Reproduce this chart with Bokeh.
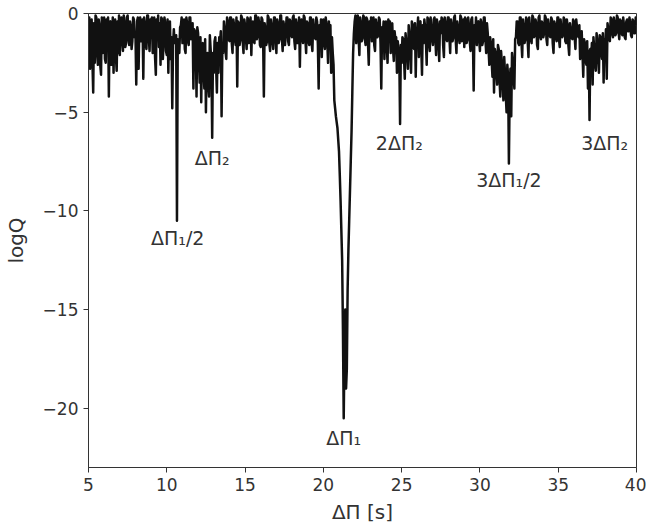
from bokeh.plotting import figure
from bokeh.models import Range1d, FixedTicker, ColumnDataSource
from bokeh.core.properties import value
from bokeh.embed import file_html
from bokeh.resources import INLINE

# x grid of period spacings (s), step 0.05 from 5.00 to 40.00
x_start = 5.0
x_step = 0.05

# logQ values, one row per 1 s (20 samples each)
logq_rows = [
    [-2.2, -0.2, -2.8, -0.4, -0.3, -2.4, -4.0, -0.5, -2.5, -0.1, -0.2, -2.0, -2.6, -0.3, -0.6, -2.6, -3.1, -0.2, -2.0, -0.4],  # 5
    [-0.2, -2.3, -2.5, -0.3, -0.8, -0.2, -4.2, -0.5, -0.4, -2.6, -1.8, -0.2, -3.0, -0.6, -0.3, -2.2, -2.9, -0.4, -2.0, -0.1],  # 6
    [-2.1, -0.3, -0.2, -1.4, -1.9, -0.1, -0.5, -1.7, -1.5, -0.2, -0.1, -1.3, -1.6, -0.4, -0.7, -1.8, -1.4, -0.2, -0.3, -1.2],  # 7
    [-1.0, -3.6, -0.4, -0.2, -2.8, -0.5, -0.2, -1.4, -1.2, -0.3, -3.3, -0.2, -0.5, -1.5, -1.8, -0.1, -0.1, -1.2, -1.9, -0.3],  # 8
    [-0.6, -0.2, -2.0, -0.4, -0.2, -2.2, -3.1, -0.3, -0.9, -0.1, -1.7, -0.5, -2.6, -0.2, -0.3, -2.3, -1.4, -0.2, -0.5, -1.9],  # 9
    [-2.1, -0.3, -3.0, -0.6, -0.4, -2.3, -1.2, -4.8, -1.6, -0.8, -1.5, -1.2, -1.1, -10.5, -1.3, -1.6, -2.0, -0.7, -0.6, -0.2],  # 10
    [-1.5, -0.4, -0.3, -1.8, -2.0, -0.2, -0.5, -1.4, -1.6, -0.2, -0.2, -1.3, -1.2, -0.5, -3.8, -0.8, -0.9, -1.5, -4.2, -0.7],  # 11
    [-1.0, -2.2, -3.5, -1.2, -4.5, -1.6, -1.5, -3.0, -3.8, -1.3, -5.0, -2.2, -2.0, -3.6, -4.2, -1.1, -1.8, -2.5, -6.3, -2.0],  # 12
    [-3.0, -1.4, -1.2, -2.7, -4.0, -1.5, -3.0, -1.2, -1.5, -0.9, -5.2, -1.6, -2.0, -0.4, -0.8, -1.9, -2.3, -0.2, -0.4, -1.3],  # 13
    [-1.4, -0.2, -0.2, -1.5, -2.0, -0.3, -0.6, -1.3, -1.6, -0.2, -3.7, -0.4, -0.5, -1.6, -1.3, -0.1, -0.2, -1.4, -2.0, -0.3],  # 14
    [-0.6, -1.2, -1.8, -0.2, -0.3, -1.5, -1.2, -0.2, -2.1, -0.6, -0.4, -1.4, -1.5, -0.1, -0.1, -1.3, -1.1, -0.2, -0.5, -1.6],  # 15
    [-1.7, -0.2, -0.3, -1.1, -4.2, -0.5, -0.8, -1.6, -1.4, -0.1, -0.2, -1.5, -1.9, -0.3, -0.6, -1.4, -1.8, -0.2, -0.2, -1.2],  # 16
    [-2.0, -0.3, -0.5, -1.5, -1.3, -0.1, -0.1, -1.2, -1.9, -0.4, -0.7, -1.6, -1.0, -0.2, -0.2, -1.4, -1.6, -0.3, -0.4, -1.1],  # 17
    [-1.2, -0.2, -0.1, -1.4, -1.8, -0.3, -0.6, -1.5, -1.1, -0.2, -2.7, -0.4, -0.3, -1.2, -1.5, -0.1, -0.2, -1.3, -2.0, -0.4],  # 18
    [-0.5, -1.4, -1.6, -0.2, -0.2, -1.5, -1.9, -0.3, -0.8, -1.2, -1.3, -0.2, -0.4, -1.6, -3.8, -0.6, -1.0, -0.3, -2.2, -0.7],  # 19
    [-0.3, -1.5, -1.8, -0.2, -0.6, -1.4, -2.5, -0.4, -1.1, -0.6, -3.0, -1.2, -2.0, -2.6, -4.4, -4.8, -5.2, -5.5, -5.8, -6.4],  # 20
    [-7.0, -8.2, -9.5, -11.0, -12.5, -16.0, -20.5, -17.0, -15.0, -19.0, -18.0, -14.0, -12.0, -10.5, -9.0, -7.5, -6.0, -4.0, -2.0, -1.0],  # 21
    [-0.4, -0.1, -1.5, -0.3, -0.1, -1.2, -2.1, -0.2, -0.5, -1.4, -1.2, -0.1, -0.2, -1.3, -1.6, -0.2, -0.3, -1.5, -2.6, -0.4],  # 22
    [-0.8, -0.2, -1.4, -0.5, -0.2, -1.6, -1.9, -0.3, -0.6, -1.2, -1.1, -0.2, -0.3, -1.5, -3.8, -0.7, -1.0, -0.4, -2.3, -0.6],  # 23
    [-0.4, -1.6, -2.5, -0.3, -1.2, -0.4, -2.0, -0.6, -0.5, -1.8, -2.4, -0.9, -1.3, -1.2, -3.0, -1.4, -1.8, -2.2, -5.6, -1.6],  # 24
    [-2.5, -1.2, -1.3, -2.2, -3.3, -1.0, -1.5, -2.0, -2.8, -0.6, -1.1, -1.9, -3.0, -0.4, -0.6, -1.7, -1.8, -0.5, -3.2, -0.9],  # 25
    [-0.9, -0.2, -2.2, -0.5, -0.4, -1.6, -3.1, -0.6, -1.5, -0.3, -0.7, -1.4, -2.6, -0.2, -0.3, -1.5, -1.9, -0.2, -0.8, -1.3],  # 26
    [-1.6, -0.3, -0.2, -1.2, -2.1, -0.3, -0.6, -1.5, -2.4, -0.4, -1.0, -0.2, -0.3, -1.6, -2.2, -0.2, -0.5, -1.3, -1.4, -0.2],  # 27
    [-0.2, -1.2, -2.0, -0.3, -0.6, -1.4, -1.2, -0.2, -0.1, -1.3, -2.0, -0.4, -0.7, -1.2, -1.5, -0.1, -0.2, -1.4, -1.0, -0.3],  # 28
    [-1.7, -0.2, -0.3, -1.5, -1.3, -0.2, -0.6, -1.4, -1.9, -0.3, -0.2, -1.2, -3.9, -0.6, -1.1, -0.2, -1.6, -0.5, -0.4, -1.3],  # 29
    [-1.9, -0.3, -0.5, -1.6, -1.4, -0.2, -0.2, -1.3, -2.0, -0.5, -1.0, -1.8, -2.6, -1.2, -1.5, -2.4, -3.2, -1.3, -4.0, -1.8],  # 30
    [-2.0, -3.0, -3.6, -1.6, -1.8, -3.3, -4.2, -1.9, -2.5, -3.5, -4.4, -2.2, -3.0, -4.1, -5.0, -2.6, -3.2, -7.6, -4.0, -2.8],  # 31
    [-5.2, -2.0, -2.5, -3.2, -3.8, -1.3, -1.2, -0.4, -0.4, -1.5, -1.6, -0.2, -0.2, -1.4, -2.2, -0.3, -0.7, -1.5, -1.3, -0.2],  # 32
    [-0.3, -1.4, -2.2, -0.2, -0.8, -1.3, -1.5, -0.1, -0.2, -1.2, -1.1, -0.3, -0.5, -1.6, -1.8, -0.2, -0.1, -1.1, -1.3, -0.4],  # 33
    [-0.5, -1.2, -1.0, -0.1, -0.2, -1.3, -1.6, -0.3, -0.7, -1.1, -1.2, -0.2, -0.3, -1.5, -2.0, -0.4, -0.6, -1.2, -1.4, -0.2],  # 34
    [-0.2, -1.3, -1.7, -0.3, -0.8, -1.2, -1.1, -0.2, -0.3, -1.4, -1.5, -0.3, -0.6, -1.6, -2.1, -0.5, -0.9, -1.2, -1.3, -0.3],  # 35
    [-0.4, -1.2, -1.8, -0.3, -0.7, -1.1, -1.2, -0.6, -2.3, -1.0, -0.9, -2.0, -3.2, -1.3, -1.5, -2.4, -2.6, -1.4, -3.8, -1.9],  # 36
    [-5.4, -1.8, -2.4, -1.5, -3.6, -1.2, -1.8, -2.6, -2.9, -1.0, -1.4, -2.2, -3.0, -1.1, -1.2, -2.0, -2.3, -1.0, -3.5, -1.3],  # 37
    [-1.6, -0.8, -3.3, -0.5, -0.8, -1.1, -1.4, -0.2, -0.3, -1.0, -1.2, -0.2, -0.5, -1.1, -1.0, -0.1, -0.2, -0.9, -1.3, -0.3],  # 38
    [-0.4, -1.0, -1.1, -0.2, -0.6, -1.2, -1.3, -0.4, -0.3, -0.9, -0.9, -0.2, -0.5, -1.1, -1.2, -0.3, -0.4, -1.0, -1.0, -0.2],  # 39
    [-0.6],                                                                                                               # 40
]

logq = [v for row in logq_rows for v in row]
period = [round(x_start + i * x_step, 3) for i in range(len(logq))]

# peak annotations
peak_labels = ["ΔΠ₁/2", "ΔΠ₂", "ΔΠ₁", "2ΔΠ₂", "3ΔΠ₁/2", "3ΔΠ₂"]
peak_label_x = [10.7, 12.9, 21.3, 24.85, 31.85, 37.97]
peak_label_y = [-11.35, -7.3, -21.5, -6.55, -8.45, -6.55]

x_ticks = [5, 10, 15, 20, 25, 30, 35, 40]
y_ticks = [0, -5, -10, -15, -20]

FONT = "DejaVu Sans"
TXT = "#333333"

p = figure(width=646, height=527, output_backend="svg", toolbar_location=None,
           x_range=Range1d(5, 40), y_range=Range1d(-23, 0),
           min_border_left=86, min_border_right=10, min_border_top=13,
           min_border_bottom=60)

p.line(period, logq, line_color="#111111", line_width=2.5, line_join="round")

src = ColumnDataSource(dict(x=peak_label_x, y=peak_label_y, t=peak_labels))
p.text(x="x", y="y", text="t", source=src, text_font=value(FONT),
       text_font_size="19px", text_color=TXT, text_align="center",
       text_baseline="middle")

p.xgrid.visible = False
p.ygrid.visible = False
p.background_fill_color = "white"
p.border_fill_color = "white"
p.outline_line_color = "#333333"
p.outline_line_width = 1

p.xaxis.ticker = FixedTicker(ticks=x_ticks)
p.yaxis.ticker = FixedTicker(ticks=y_ticks)
p.yaxis.major_label_overrides = {t: ("−" + str(-t) if t < 0 else str(t)) for t in y_ticks}

for ax in (p.xaxis[0], p.yaxis[0]):
    ax.axis_line_color = "#333333"
    ax.major_tick_line_color = "#333333"
    ax.major_tick_in = 0
    ax.major_tick_out = 5
    ax.minor_tick_line_color = None
    ax.major_label_text_font = FONT
    ax.major_label_text_font_size = "17px"
    ax.major_label_text_color = TXT
    ax.major_label_standoff = 5
    ax.axis_label_text_font = FONT
    ax.axis_label_text_font_size = "20px"
    ax.axis_label_text_font_style = "normal"
    ax.axis_label_text_color = TXT

p.xaxis.axis_label = "ΔΠ [s]"
p.yaxis.axis_label = "logQ"
p.xaxis.axis_label_standoff = 6
p.yaxis.axis_label_standoff = 12

open("out.html", "w").write(file_html(p, INLINE))
